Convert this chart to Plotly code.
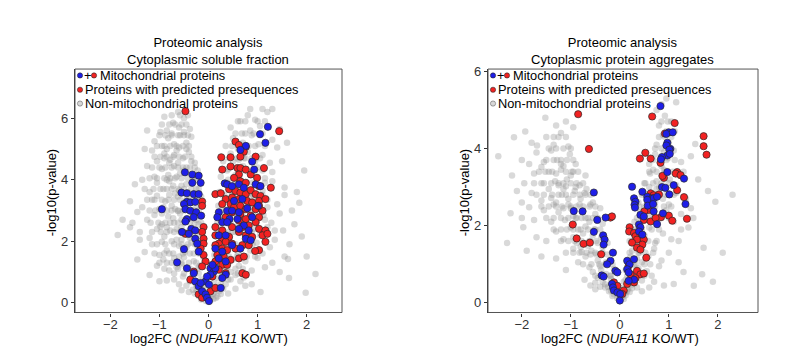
import plotly.graph_objects as go

# ---------------- Cytoplasmic soluble fraction ----------------
soluble_other_sparse = [
    (-0.05,0.05),(0.03,0.08),(-0.12,0.15),(0.1,0.12),(-0.2,0.22),(0.18,0.2),(-0.28,0.3),(0.25,0.28),
    (-0.08,0.35),(0.07,0.4),(-0.32,0.42),(0.3,0.45),(-0.15,0.48),(0.14,0.5),(0.02,0.25),(-0.02,0.15),
    (0.22,0.38),(-0.24,0.4),
    (-0.6,0.6),(-0.45,0.55),(-0.38,0.7),(-0.25,0.62),(-0.15,0.75),(0.12,0.65),(0.2,0.8),(0.35,0.6),
    (0.45,0.75),(0.55,0.9),(0.65,0.7),(-0.52,0.85),(-0.7,0.95),(0.3,0.95),(-0.32,0.9),(0.05,0.85),
    (0.75,0.55),(-0.85,0.72),(0.88,0.6),(1.06,0.35),(1.64,0.8),(2.18,0.93),(1.98,0.32),
    (-0.8,1.05),(-0.65,1.15),(-0.55,1.25),(-0.42,1.1),(-0.3,1.35),(-0.18,1.2),(-0.1,1.45),(0.15,1.1),
    (0.25,1.3),(0.38,1.15),(0.5,1.4),(0.62,1.2),(0.75,1.35),(0.88,1.05),(1.0,1.45),(-0.92,1.4),
    (-0.7,1.45),(1.15,1.15),(-1.05,1.2),(1.3,1.3),(0.45,1.0),(-0.5,1.48),
    (-1.0,1.55),(-0.85,1.7),(-0.72,1.6),(-0.6,1.85),(-0.48,1.65),(-0.35,1.95),(-0.22,1.75),(-0.12,1.6),
    (0.12,1.55),(0.22,1.8),(0.35,1.65),(0.48,1.9),(0.6,1.6),(0.72,1.85),(0.85,1.7),(0.98,1.95),
    (1.1,1.6),(1.25,1.8),(-1.15,1.9),(-1.3,1.65),(1.55,1.5),(1.62,1.42),(-0.95,1.98),(0.3,2.0),
    (-1.85,2.2),(-1.4,2.3),(-1.2,2.1),(-1.05,2.4),(-0.9,2.15),(-0.78,2.35),(-0.65,2.05),(-0.55,2.45),
    (-0.42,2.2),(-0.3,2.4),(-0.18,2.1),(0.15,2.15),(0.28,2.4),(0.4,2.05),(0.55,2.3),(0.68,2.5),
    (0.8,2.1),(0.92,2.4),(1.05,2.2),(1.2,2.45),(1.35,2.05),(1.52,2.35),(1.9,2.15),(-1.6,2.45),(-0.98,2.48),
    (-1.55,2.6),(-1.45,2.95),(-1.25,2.7),(-1.1,2.85),(-0.95,2.55),(-0.82,2.8),(-0.7,2.6),(-0.58,2.9),
    (-0.45,2.65),(-0.32,2.85),(-0.2,2.55),(0.18,2.6),(0.3,2.85),(0.42,2.55),(0.55,2.9),(0.7,2.7),
    (0.85,2.95),(0.98,2.6),(1.12,2.85),(1.28,2.6),(1.45,2.9),(1.7,3.0),(1.35,2.35),(-0.62,2.98),
    (-1.35,3.1),(-1.15,3.35),(-1.0,3.05),(-0.88,3.3),(-0.75,3.15),(-0.62,3.45),(-0.5,3.2),(-0.38,3.4),
    (-0.25,3.1),(-0.15,3.45),(0.2,3.15),(0.35,3.4),(0.5,3.05),(0.65,3.35),(0.78,3.15),(0.92,3.45),
    (1.05,3.1),(1.2,3.35),(1.85,3.25),(-1.05,3.48),(1.4,3.2),
    (-1.5,3.85),(-1.2,3.6),(-1.05,3.9),(-0.92,3.7),(-0.8,3.95),(-0.68,3.55),(-0.55,3.8),(-0.42,3.6),
    (-0.3,3.95),(-0.2,3.7),(0.22,3.6),(0.38,3.9),(0.52,3.7),(0.68,3.95),(0.82,3.55),(0.95,3.85),
    (1.1,3.65),(1.3,3.95),(1.8,3.6),(1.55,3.75),
    (-1.1,4.1),(-0.95,4.35),(-0.82,4.15),(-0.7,4.45),(-0.58,4.2),(-0.45,4.4),(-0.32,4.05),(-0.22,4.3),
    (0.25,4.1),(0.4,4.35),(0.55,4.15),(0.7,4.45),(0.85,4.2),(1.0,4.4),(1.15,4.05),(1.95,4.3),
    (1.3,4.25),(-1.25,4.45),
    (-1.05,4.6),(-0.9,4.85),(-0.78,4.65),(-0.65,4.95),(-0.52,4.7),(-0.4,4.9),(-0.28,4.55),(0.3,4.6),
    (0.45,4.85),(0.62,4.65),(0.8,4.9),(0.95,4.6),(1.1,4.8),(1.25,4.55),(-1.15,4.95),
    (-0.95,5.1),(-0.82,5.35),(-0.7,5.15),(-0.58,5.45),(-0.45,5.2),(-0.35,5.4),(0.35,5.1),(0.5,5.35),
    (0.7,5.2),(0.88,5.45),(1.02,5.15),(1.3,5.3),(1.4,5.05),(-1.1,5.25),
    (-0.85,5.6),(-0.72,5.85),(-0.6,5.7),(-0.5,6.0),(-0.38,5.65),(-0.9,6.05),(0.45,5.7),(0.65,5.9),
    (0.8,6.1),(1.05,5.75),(1.2,6.2),(1.3,6.3),(1.45,5.65),(0.95,5.95),(-0.62,6.2),(-0.98,5.55),
    (-1.45,1.4),(-1.6,3.3),(-1.35,4.0),(-1.3,5.0),(-1.4,2.05),(-1.75,2.7),(-1.25,5.6),(1.5,4.6),
    (1.6,5.2),(1.75,2.55),(1.65,1.9),(1.45,1.0),(2.0,1.5),(1.55,3.5),(-1.2,0.9),(-1.0,0.7),
]

soluble_other_core = [
    (-0.75,1.3),(-0.6,1.5),(-0.45,1.8),(-0.38,2.1),(-0.5,2.25),(-0.65,2.4),(-0.72,2.75),(-0.55,2.7),
    (-0.4,3.0),(-0.68,3.05),(-0.8,3.5),(-0.48,3.55),(-0.6,3.65),(-0.72,3.8),(-0.85,4.0),(-0.65,4.1),
    (-0.5,4.3),(-0.8,4.55),(-0.62,4.55),(-0.7,4.8),(-0.85,5.0),(-0.6,5.05),(-0.75,5.5),(-0.55,2.05),
    (-0.3,1.6),(-0.25,2.7),(-0.35,3.25),(-0.45,3.85),(-0.35,4.6),(-0.92,3.1),(-0.95,2.9),(-0.85,2.45),
    (-0.75,2.0),(-0.9,4.7),(-0.45,5.0),(-0.5,5.55),
    (-0.9,1.1),(-0.62,1.1),(-0.38,1.1),(-0.22,1.1),
    (-1.0,1.3),(-0.85,1.3),(-0.55,1.3),(-0.4,1.3),(-0.25,1.3),
    (-1.1,1.6),(-0.9,1.6),(-0.8,1.6),(-0.52,1.6),(-0.38,1.6),(-0.2,1.6),
    (-1.05,1.9),(-0.88,1.9),(-0.7,1.9),(-0.55,1.9),(-0.42,1.9),(-0.28,1.9),(-0.15,1.9),
    (-1.15,2.3),(-0.97,2.3),(-0.85,2.3),(-0.7,2.3),(-0.58,2.3),(-0.45,2.3),(-0.33,2.3),(-0.22,2.3),
    (-1.18,2.6),(-1.02,2.6),(-0.88,2.6),(-0.78,2.6),(-0.62,2.6),(-0.5,2.6),(-0.38,2.6),(-0.28,2.6),(-0.15,2.6),
    (-1.2,3.0),(-1.08,3.0),(-0.85,3.0),(-0.75,3.0),(-0.62,3.0),(-0.52,3.0),(-0.3,3.0),(-0.2,3.0),
    (-1.25,3.35),(-1.1,3.35),(-0.95,3.35),(-0.82,3.35),(-0.7,3.35),(-0.58,3.35),(-0.45,3.35),(-0.25,3.35),
    (-1.3,3.7),(-1.12,3.7),(-0.98,3.7),(-0.85,3.7),(-0.75,3.7),(-0.62,3.7),(-0.5,3.7),(-0.35,3.7),(-0.25,3.7),
    (-1.2,4.05),(-1.05,4.05),(-0.9,4.05),(-0.78,4.05),(-0.68,4.05),(-0.55,4.05),(-0.42,4.05),(-0.3,4.05),
    (-1.15,4.4),(-1.0,4.4),(-0.88,4.4),(-0.75,4.4),(-0.62,4.4),(-0.52,4.4),(-0.38,4.4),(-0.28,4.4),
    (-1.1,4.75),(-0.98,4.75),(-0.85,4.75),(-0.72,4.75),(-0.6,4.75),(-0.48,4.75),(-0.35,4.75),
    (-1.05,5.1),(-0.9,5.1),(-0.78,5.1),(-0.65,5.1),(-0.52,5.1),(-0.4,5.1),
    (-1.0,5.45),(-0.88,5.45),(-0.75,5.45),(-0.62,5.45),(-0.5,5.45),(-0.42,5.45),
    (-0.95,5.8),(-0.8,5.8),(-0.68,5.8),(-0.55,5.8),(-0.45,5.8),
    (-0.75,6.1),(-0.58,6.1),(-0.42,6.1),
    (0.2,1.4),(0.3,1.7),(0.4,2.3),(0.25,2.0),(0.45,2.6),(0.55,3.1),(0.6,2.5),(0.35,3.0),
    (0.48,3.5),(0.62,3.8),(0.4,4.0),(0.58,4.4),(0.72,4.7),(0.5,4.6),(0.6,5.0),(0.75,5.5),
    (0.85,5.6),(0.7,3.0),(0.8,3.3),(0.95,2.8),(0.28,0.9),(0.18,0.45),(-0.1,0.55),(-0.2,0.95),
    (0.1,0.3),(-0.15,0.3),
    (0.2,1.1),(0.35,1.1),(0.55,1.1),(0.7,1.1),
    (0.25,1.5),(0.42,1.5),(0.58,1.5),(0.78,1.5),(0.95,1.5),
    (0.18,1.9),(0.38,1.9),(0.55,1.9),(0.75,1.9),(0.9,1.9),
    (0.22,2.3),(0.48,2.3),(0.72,2.3),(0.88,2.3),(1.1,2.3),
    (0.25,2.7),(0.42,2.7),(0.6,2.7),(0.8,2.7),(0.95,2.7),(1.15,2.7),
    (0.28,3.1),(0.45,3.1),(0.62,3.1),(0.85,3.1),(1.0,3.1),(1.2,3.1),
    (0.32,3.5),(0.5,3.5),(0.7,3.5),(0.9,3.5),(1.1,3.5),
    (0.35,3.9),(0.55,3.9),(0.78,3.9),(0.9,3.9),(1.15,3.9),
    (0.38,4.3),(0.6,4.3),(0.75,4.3),(0.95,4.3),(1.1,4.3),
    (0.42,4.7),(0.58,4.7),(0.75,4.7),(0.88,4.7),(1.05,4.7),
    (0.48,5.1),(0.62,5.1),(0.82,5.1),(0.95,5.1),(1.15,5.1),
    (0.55,5.5),(0.68,5.5),(0.92,5.5),(1.1,5.5),
    (0.6,5.9),(0.75,5.9),(1.0,5.9),(1.15,5.9),
    (0.85,6.3),(1.1,6.3),
    (-0.05,0.2),(0.05,0.22),(-0.1,0.4),(0.12,0.35),(-0.25,0.55),(0.25,0.6),(-0.35,0.8),(0.4,0.75),
    (-0.5,0.95),(0.6,0.95),(-0.15,0.1),(0.15,0.15),(-0.4,0.35),(0.4,0.3),(-0.55,0.4),(0.55,0.45),
    (-0.7,0.75),(0.72,0.82),
]

soluble_presequence = [
    (-0.47,6.23),(1.44,5.58),(0.55,5.24),(0.62,5.13),(0.76,5.07),(0.72,4.91),(0.65,4.75),(0.26,4.73),
    (0.45,4.73),(0.96,4.75),(0.28,4.33),(0.45,4.43),(0.59,4.38),(0.65,4.38),(0.76,4.33),(1.13,4.38),
    (0.86,4.17),(0.62,4.17),(0.52,4.06),(0.65,3.95),(0.76,3.90),(0.99,4.06),(1.03,3.79),(1.27,3.74),
    (0.14,3.53),(0.25,3.56),(0.42,3.69),(0.55,3.63),(0.65,3.58),(0.76,3.53),(0.86,3.66),(0.96,3.53),
    (1.06,3.47),(0.35,3.37),(0.48,3.42),(0.62,3.37),(0.79,3.31),(0.89,3.26),(1.03,3.31),(1.16,3.37),
    (0.28,3.21),(0.45,3.21),(0.52,3.10),(0.65,3.15),(0.76,3.04),(0.96,3.04),(1.10,2.99),(1.03,3.15),
    (-0.13,3.29),(-0.13,3.15),(0.48,2.94),(0.65,2.88),(0.86,2.83),(1.03,2.78),(0.35,2.78),(0.62,2.67),
    (0.76,2.72),(0.96,2.62),(0.48,2.46),(0.69,2.46),(0.82,2.51),(1.03,2.40),(1.16,2.35),(0.14,2.46),
    (0.28,2.35),(0.62,2.30),(0.76,2.19),(0.89,2.14),(1.10,2.19),(1.20,2.24),(0.14,2.19),(0.28,2.08),
    (0.42,2.14),(0.35,1.98),(0.48,1.92),(0.21,1.92),(0.14,1.87),(0.28,1.76),(0.38,1.71),(0.55,1.76),
    (0.69,1.87),(0.82,1.87),(1.03,1.71),(1.16,1.98),(0.95,1.68),(-0.10,2.46),(-0.13,2.30),(-0.10,2.08),
    (-0.10,1.92),(-0.16,1.76),(-0.47,2.24),(0.18,1.55),(0.31,1.50),(0.45,1.39),(0.62,1.44),(0.72,1.50),
    (0.14,1.34),(0.28,1.23),(0.38,1.23),(-0.10,1.55),(-0.06,1.34),(-0.13,1.18),(0.69,0.96),(0.76,0.91),
    (-0.37,0.75),(-0.30,1.01),(0.08,0.85),(0.21,1.07),(0.35,0.96),(-0.20,0.27),(-0.13,0.16),(0.04,0.37),
    (0.14,0.48),
]

soluble_mito = [
    (1.21,5.72),(1.05,5.48),(1.16,5.20),(0.76,5.10),(0.65,4.97),(0.89,4.59),(0.93,4.33),(-0.48,4.24),
    (-0.33,4.17),(-0.20,4.13),(-0.33,3.90),(-0.16,3.90),(-0.55,3.58),(-0.44,3.56),(-0.30,3.53),(-0.20,3.53),
    (-0.44,3.28),(-0.37,3.26),(-0.27,3.28),(-0.50,3.21),(-0.95,3.04),(-0.47,3.04),(-0.37,2.99),(-0.25,2.94),
    (-0.44,2.72),(-0.30,2.78),(-0.15,2.83),(-0.35,2.40),(-0.27,2.35),(-0.47,2.64),(-0.54,2.30),(-0.40,2.24),
    (-0.27,2.08),(-0.23,1.92),(-0.20,1.66),(-0.50,1.74),(-0.64,1.31),(-0.44,1.12),(-0.30,0.96),(-0.27,0.69),
    (-0.20,0.53),(-0.06,0.69),(0.01,0.59),(0.04,1.12),(0.11,1.01),(0.04,0.91),(-0.03,0.85),(-0.13,0.37),
    (-0.06,0.27),(-0.03,0.16),(0.01,0.05),(-0.16,0.64),(0.33,3.88),(0.38,3.85),(0.48,3.79),(0.62,3.85),
    (0.72,3.74),(0.96,3.85),(1.06,3.79),(0.52,3.31),(0.69,3.37),(0.21,2.94),(0.38,2.99),(0.48,2.99),
    (0.62,2.94),(0.79,3.07),(0.43,2.72),(0.59,2.72),(1.01,3.15),(0.28,2.62),(0.38,2.62),(0.89,2.78),
    (0.72,2.51),(0.62,2.40),(0.82,2.35),(0.18,2.78),(0.21,2.19),(0.35,2.19),(0.76,2.08),(0.86,2.03),
    (0.48,1.87),(0.65,1.76),(0.14,1.76),(0.28,1.66),(0.21,1.44),(0.35,1.34),(0.35,0.91),(0.28,0.80),
    (0.14,1.12),(0.08,1.23),(0.25,0.48),
]

# ---------------- Cytoplasmic protein aggregates ----------------
aggregate_other_sparse = [
    (0.0,0.05),(-0.05,0.12),(0.06,0.15),(-0.12,0.22),(0.1,0.25),(-0.18,0.32),(0.16,0.35),(-0.24,0.42),
    (0.22,0.45),(-0.08,0.3),(0.04,0.38),(-0.3,0.48),(0.3,0.5),(1.1,0.49),(0.9,0.45),(1.51,0.44),
    (-0.35,0.55),(-0.45,0.65),(-0.55,0.8),(-0.28,0.75),(-0.4,0.95),(-0.62,0.92),(-0.18,0.62),(-0.12,0.88),
    (0.12,0.6),(0.2,0.78),(0.3,0.65),(0.38,0.9),(0.45,0.58),(0.55,0.82),(0.65,0.7),(0.8,0.95),
    (1.68,0.74),(-0.72,0.6),(0.28,0.98),(-0.5,0.52),
    (-0.85,1.05),(-0.7,1.2),(-0.58,1.35),(-0.45,1.1),(-0.35,1.45),(-0.25,1.25),(-0.95,1.4),(-1.1,1.3),
    (0.15,1.1),(0.25,1.35),(0.35,1.15),(0.45,1.45),(0.58,1.2),(0.7,1.4),(0.85,1.1),(1.0,1.3),
    (1.71,1.43),(-0.65,1.48),(-0.78,1.32),(-1.3,1.15),(1.2,1.05),(-0.15,1.0),
    (-1.5,1.6),(-1.3,1.85),(-1.15,1.65),(-1.0,1.95),(-0.88,1.55),(-0.75,1.8),(-0.62,1.6),(-0.5,1.9),
    (-0.38,1.7),(-0.25,1.55),(0.2,1.6),(0.32,1.85),(0.45,1.65),(0.6,1.95),(0.72,1.55),(0.88,1.8),
    (1.05,1.65),(1.25,1.9),(-1.97,1.96),(-1.7,1.7),(-0.95,1.7),(-0.7,1.98),
    (-2.23,2.32),(-1.75,2.15),(-1.55,2.4),(-1.4,2.1),(-1.25,2.35),(-1.12,2.15),(-1.0,2.45),(-0.88,2.2),
    (-0.75,2.4),(-0.62,2.1),(-0.5,2.3),(-0.35,2.05),(0.3,2.1),(0.42,2.35),(0.55,2.15),(0.68,2.45),
    (0.82,2.2),(0.95,2.4),(1.1,2.1),(1.25,2.3),(1.45,2.45),(-1.85,2.48),(-0.95,2.05),
    (-2.0,2.6),(-1.8,2.85),(-1.6,2.65),(-1.45,2.95),(-1.3,2.6),(-1.18,2.8),(-1.05,2.55),(-0.92,2.9),
    (-0.8,2.7),(-0.68,2.95),(-0.55,2.6),(0.38,2.6),(0.5,2.85),(0.62,2.65),(0.75,2.95),(0.88,2.7),
    (1.0,2.55),(1.15,2.85),(1.95,2.62),(-2.1,2.9),(1.35,2.7),(-1.4,2.72),
    (-1.95,3.1),(-1.75,3.35),(-1.6,3.1),(-1.45,3.4),(-1.32,3.15),(-1.2,3.45),(-1.08,3.2),(-0.95,3.4),
    (-0.82,3.05),(-0.7,3.3),(0.5,3.1),(0.62,3.35),(0.75,3.15),(0.9,3.45),(1.02,3.2),(1.15,3.05),
    (-2.2,3.3),(-1.1,3.02),(1.3,3.4),
    (-2.48,3.8),(-1.85,3.6),(-1.7,3.9),(-1.55,3.65),(-1.4,3.95),(-1.28,3.7),(-1.15,3.55),(-1.02,3.85),
    (-0.9,3.6),(0.6,3.6),(0.72,3.85),(0.85,3.55),(0.98,3.75),(1.1,3.95),(1.25,3.65),(-1.6,3.52),(-2.0,3.7),
    (-2.16,4.29),(-1.93,4.44),(-1.69,4.08),(-1.5,4.3),(-1.35,4.1),(-1.2,4.4),(-1.05,4.05),(0.75,4.1),
    (0.88,4.35),(1.0,4.15),(1.12,4.45),(1.54,4.12),(-1.8,4.15),
    (-1.52,4.8),(-1.3,4.6),(-1.1,4.7),(0.8,4.6),(0.92,4.85),(1.05,4.7),(0.85,5.15),(0.95,5.3),
    (0.75,5.0),(1.15,5.2),(-0.95,4.55),
    (-2.0,2.2),(-2.3,1.55),(-1.9,1.35),(-1.6,1.2),(-1.1,0.85),(1.3,0.8),(1.2,1.6),(1.4,1.95),
    (1.5,2.2),(2.1,1.3),(1.6,3.2),(1.8,2.9),(1.9,0.55),(2.3,2.8),(1.45,3.8),
]

aggregate_other_core = [
    (-0.6,1.25),(-0.72,1.55),(-0.85,1.9),(-0.55,1.75),(-0.7,2.2),(-0.82,2.55),(-0.95,2.25),(-1.05,2.7),
    (-0.9,3.0),(-1.15,2.95),(-1.0,3.3),(-1.25,3.05),(-1.2,3.6),(-0.45,1.55),(-0.38,0.85),(-0.28,1.05),
    (-0.48,1.25),(-0.6,2.55),(-0.72,2.85),(-1.15,2.45),(-1.35,2.55),(-1.3,3.35),(-0.8,1.45),(-0.4,2.45),
    (-0.2,0.7),(-0.12,0.45),
    (-0.5,0.7),(-0.32,0.7),(-0.18,0.7),
    (-0.75,1.0),(-0.58,1.0),(-0.42,1.0),(-0.3,1.0),
    (-0.95,1.3),(-0.82,1.3),(-0.68,1.3),(-0.5,1.3),(-0.35,1.3),
    (-1.2,1.6),(-1.05,1.6),(-0.92,1.6),(-0.78,1.6),(-0.6,1.6),(-0.48,1.6),(-0.32,1.6),
    (-1.35,1.9),(-1.2,1.9),(-1.08,1.9),(-0.95,1.9),(-0.8,1.9),(-0.65,1.9),(-0.52,1.9),(-0.4,1.9),
    (-1.5,2.2),(-1.35,2.2),(-1.2,2.2),(-1.05,2.2),(-0.9,2.2),(-0.78,2.2),(-0.65,2.2),(-0.55,2.2),(-0.45,2.2),
    (-1.6,2.5),(-1.45,2.5),(-1.3,2.5),(-1.18,2.5),(-1.0,2.5),(-0.88,2.5),(-0.75,2.5),(-0.62,2.5),(-0.5,2.5),
    (-1.7,2.8),(-1.55,2.8),(-1.38,2.8),(-1.25,2.8),(-1.1,2.8),(-0.95,2.8),(-0.82,2.8),(-0.7,2.8),(-0.6,2.8),
    (-1.75,3.1),(-1.55,3.1),(-1.4,3.1),(-1.25,3.1),(-1.15,3.1),(-1.0,3.1),(-0.88,3.1),(-0.75,3.1),
    (-1.65,3.4),(-1.52,3.4),(-1.38,3.4),(-1.1,3.4),(-0.98,3.4),(-0.85,3.4),
    (-1.5,3.7),(-1.35,3.7),(-1.2,3.7),(-1.08,3.7),(-0.95,3.7),
    (-1.45,4.0),(-1.3,4.0),(-1.15,4.0),(-1.0,4.0),
    (-1.35,4.3),(-1.25,4.3),(-1.1,4.3),
    (0.12,0.85),(0.22,1.2),(0.3,1.55),(0.4,1.3),(0.38,1.95),(0.5,1.75),(0.5,2.5),(0.62,2.3),
    (0.6,3.0),(0.72,2.6),(0.8,3.0),(0.85,3.3),(0.68,3.45),(0.9,3.9),(0.95,4.45),(0.08,0.55),
    (0.15,0.3),(0.45,1.05),
    (0.15,0.7),(0.3,0.7),(0.5,0.7),
    (0.18,1.0),(0.32,1.0),(0.5,1.0),(0.62,1.0),
    (0.2,1.3),(0.38,1.3),(0.52,1.3),(0.68,1.3),
    (0.25,1.6),(0.4,1.6),(0.58,1.6),(0.75,1.6),
    (0.28,1.9),(0.45,1.9),(0.65,1.9),(0.8,1.9),
    (0.35,2.2),(0.5,2.2),(0.7,2.2),(0.85,2.2),(1.0,2.2),
    (0.4,2.5),(0.55,2.5),(0.72,2.5),(0.9,2.5),(1.05,2.5),
    (0.45,2.8),(0.6,2.8),(0.78,2.8),(0.95,2.8),(1.1,2.8),
    (0.52,3.1),(0.68,3.1),(0.85,3.1),(1.0,3.1),
    (0.6,3.4),(0.75,3.4),(0.92,3.4),(1.08,3.4),
    (0.68,3.7),(0.82,3.7),(0.95,3.7),(1.12,3.7),
    (0.72,4.0),(0.85,4.0),(1.05,4.0),
    (0.8,4.3),(0.92,4.3),(1.05,4.3),
    (0.85,4.7),(0.98,4.7),
    (-0.02,0.12),(0.08,0.1),(-0.15,0.18),(0.12,0.2),(-0.22,0.3),(0.2,0.28),(-0.3,0.4),(0.25,0.38),
    (-0.4,0.42),(0.35,0.4),(-0.5,0.35),(0.45,0.3),(0.6,0.4),(-0.6,0.45),(0.7,0.55),
]

aggregate_presequence = [
    (-0.85,4.89),(-0.63,3.99),(0.66,4.83),(1.12,4.66),(0.92,4.39),(1.71,4.32),(1.71,4.06),(1.77,3.84),
    (0.52,3.89),(0.41,3.74),(0.63,3.74),(0.83,3.63),(1.17,3.39),(1.14,3.35),(1.24,3.31),(0.90,3.24),
    (0.87,3.29),(1.17,2.92),(1.31,2.74),(0.63,2.84),(0.69,2.79),(0.80,2.81),(1.37,2.18),(1.00,2.26),
    (1.07,2.13),(0.84,2.22),(0.59,2.41),(0.50,2.37),(0.49,2.15),(0.63,2.11),(0.73,2.20),(-0.19,2.21),
    (-0.16,2.24),(-0.96,2.03),(-0.88,1.67),(-0.74,1.53),(-0.61,1.56),(-0.38,1.26),(0.20,1.96),(0.19,1.85),
    (0.29,1.81),(0.32,1.73),(0.35,1.64),(0.49,1.64),(0.46,1.51),(0.25,1.56),(0.35,1.43),(0.42,1.38),
    (0.54,1.17),(0.18,0.96),(0.22,0.74),(0.35,0.83),(0.42,0.74),(0.49,0.76),(-0.12,0.53),(-0.05,0.44),
    (0.15,0.49),(0.29,0.53),(0.32,0.64),(0.08,0.32),(0.05,0.23),
]

aggregate_mito = [
    (0.83,5.10),(1.00,4.42),(0.95,4.38),(1.08,4.42),(0.97,4.15),(1.03,3.99),(0.95,4.08),(1.01,3.97),
    (0.97,3.82),(1.02,3.86),(0.86,3.78),(0.84,3.72),(0.97,3.39),(1.31,3.22),(1.10,3.05),(0.25,3.01),
    (0.86,3.00),(0.93,2.98),(1.01,2.81),(0.46,2.88),(0.29,2.71),(0.32,2.62),(0.30,2.54),(0.31,2.47),
    (0.56,2.75),(0.66,2.71),(0.69,2.71),(0.76,2.75),(0.56,2.67),(0.57,2.52),(0.68,2.56),(1.34,2.56),
    (0.88,2.32),(0.69,2.37),(0.42,2.28),(0.49,2.24),(0.76,2.04),(0.39,2.03),(0.42,1.96),(0.39,1.85),
    (0.46,1.77),(-0.53,2.86),(-0.94,2.38),(-0.76,2.37),(-0.29,2.21),(-0.46,2.15),(-0.53,1.84),(-0.34,1.75),
    (-0.31,1.64),(-0.33,1.51),(-0.14,1.30),(-0.19,1.09),(-0.26,1.00),(-0.09,0.83),(-0.05,0.79),(-0.37,0.71),
    (-0.33,0.68),(-0.16,0.49),(-0.14,0.40),(-0.12,0.32),(-0.05,0.27),(0.01,0.23),(0.0,0.06),(0.15,1.09),
    (0.20,1.00),(0.29,1.13),(0.15,0.87),(0.18,0.79),(0.29,0.60),(0.18,0.57),
]

panel_titles = ["Proteomic analysis<br>Cytoplasmic soluble fraction",
                "Proteomic analysis<br>Cytoplasmic protein aggregates"]
legend_labels = ["Mitochondrial proteins",
                 "Proteins with predicted presequences",
                 "Non-mitochondrial proteins"]
x_ticks = [-2, -1, 0, 1, 2]
y_ticks = [0, 2, 4, 6]
x_title = "log2FC (<i>NDUFA11</i> KO/WT)"
y_title = "-log10(p-value)"

W, H = 800, 346
BLUE = "rgb(30,30,232)"
RED = "rgb(242,34,34)"
GRAY = "rgba(145,145,145,0.34)"
EDGE = "#2a2a2a"
FONT = "Arial, Liberation Sans, sans-serif"

# panel boxes in pixels: (left, right, top, bottom)
panels = [
    dict(box=(75, 342, 65, 312), xr=[-2.72, 2.72], yr=[-0.32, 7.6], title_x=208,
         data=(soluble_other_sparse + soluble_other_core, soluble_presequence, soluble_mito),
         title=panel_titles[0]),
    dict(box=(488, 758, 65, 312), xr=[-2.69, 2.82], yr=[-0.25, 6.06], title_x=622,
         data=(aggregate_other_sparse + aggregate_other_core, aggregate_presequence, aggregate_mito),
         title=panel_titles[1]),
]


def px(x):
    return x / W


def py(y):
    return 1 - y / H


fig = go.Figure()
annotations = []
shapes = []


def dot(xc, yc, fill, line_col, size=5.2):
    shapes.append(dict(type="circle", xref="paper", yref="paper",
                       xsizemode="pixel", ysizemode="pixel",
                       xanchor=px(xc), yanchor=py(yc),
                       x0=-size / 2, x1=size / 2, y0=-size / 2, y1=size / 2,
                       fillcolor=fill, line=dict(color=line_col, width=0.6)))


def label(text, x, y, xanchor="left", angle=0, size=13):
    annotations.append(dict(text=text, x=px(x), y=py(y), xref="paper", yref="paper",
                            showarrow=False, xanchor=xanchor, yanchor="middle",
                            textangle=angle, borderpad=0,
                            font=dict(family=FONT, size=size, color="black")))


for i, p in enumerate(panels):
    sfx = "" if i == 0 else str(i + 1)
    xa, ya = "x" + sfx, "y" + sfx
    other, preseq, mito = p["data"]
    fig.add_trace(go.Scatter(
        x=[a for a, b in other], y=[b for a, b in other], mode="markers",
        marker=dict(size=6.5, color=GRAY, line=dict(width=0)),
        xaxis=xa, yaxis=ya, showlegend=False, hoverinfo="skip"))
    fig.add_trace(go.Scatter(
        x=[a for a, b in preseq], y=[b for a, b in preseq], mode="markers",
        marker=dict(size=7.2, color=RED, line=dict(width=0.7, color=EDGE)),
        xaxis=xa, yaxis=ya, showlegend=False))
    fig.add_trace(go.Scatter(
        x=[a for a, b in mito], y=[b for a, b in mito], mode="markers",
        marker=dict(size=7.2, color=BLUE, line=dict(width=0.7, color=EDGE)),
        xaxis=xa, yaxis=ya, showlegend=False))

    l, r, t, b = p["box"]
    axis_common = dict(showgrid=False, zeroline=False, showline=True, linecolor="#333",
                       linewidth=1.3, ticks="outside", ticklen=3, tickwidth=1,
                       tickcolor="#333", tickfont=dict(family=FONT, size=13, color="#333"))
    fig.update_layout(**{
        "xaxis" + sfx: dict(domain=[px(l), px(r)], range=p["xr"], tickvals=x_ticks,
                            anchor=ya, ticklabelstandoff=-3, **axis_common),
        "yaxis" + sfx: dict(domain=[py(b), py(t)], range=p["yr"], tickvals=y_ticks,
                            anchor=xa, **axis_common),
    })

    # thin frame around the panel
    shapes.append(dict(type="rect", xref="paper", yref="paper",
                       x0=px(l), x1=px(r), y0=py(b), y1=py(t),
                       line=dict(color="#555", width=1), layer="above"))

    label(p["title"], p["title_x"], 47, xanchor="center")
    x0_px = l + (r - l) * (0 - p["xr"][0]) / (p["xr"][1] - p["xr"][0])
    label(x_title, x0_px, 338, xanchor="center")
    label(y_title, l - 15, (t + b) / 2 + 2, xanchor="right", angle=-90)

    # legend rows inside the top of the panel
    lx = l + 5
    rows = [71.5, 86, 100]
    dot(lx, rows[0], BLUE, EDGE)
    label("+", lx + 7, rows[0], xanchor="center", size=12.8)
    dot(lx + 14, rows[0], RED, EDGE)
    label(legend_labels[0], lx + 19, rows[0], size=12.8)
    dot(lx, rows[1], RED, EDGE)
    label(legend_labels[1], lx + 4, rows[1], size=12.8)
    dot(lx, rows[2], "rgb(215,215,215)", "#666")
    label(legend_labels[2], lx + 4, rows[2], size=12.8)

fig.update_layout(
    width=W, height=H, margin=dict(l=0, r=0, t=0, b=0),
    paper_bgcolor="white", plot_bgcolor="white",
    annotations=annotations, shapes=shapes,
    font=dict(family=FONT),
)

fig.write_html("out.html")
